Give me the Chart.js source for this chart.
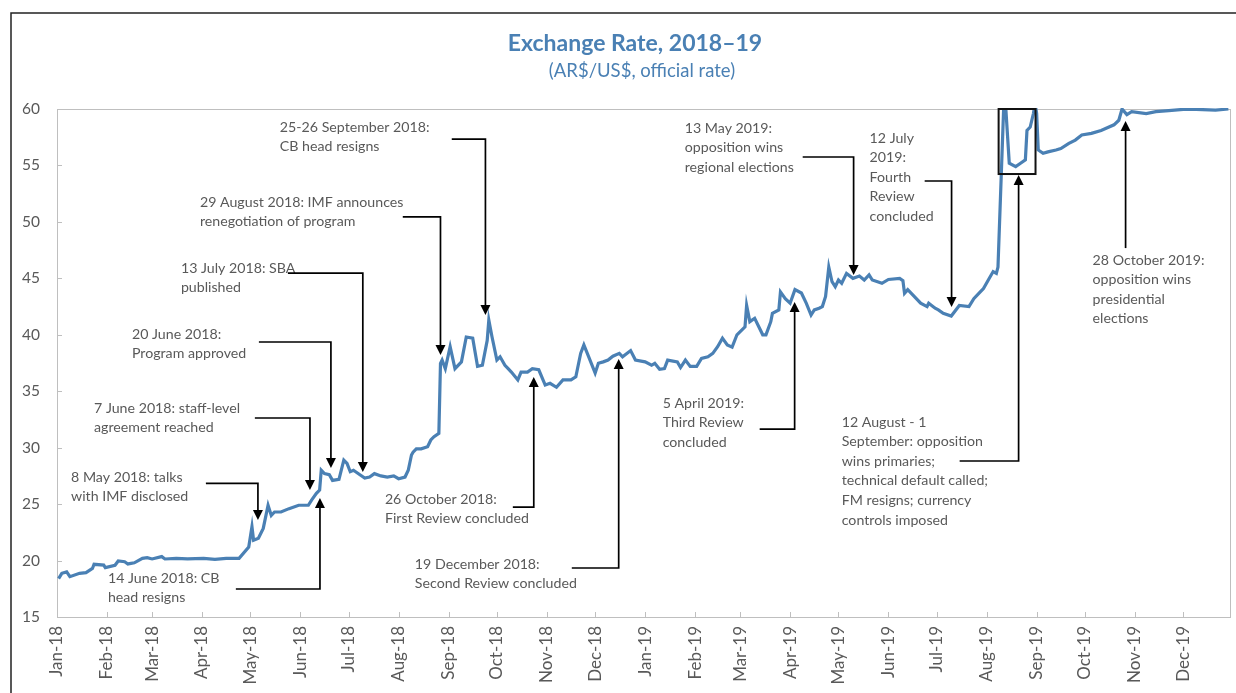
<!DOCTYPE html>
<html>
<head>
<meta charset="utf-8">
<script src="https://cdn.jsdelivr.net/npm/chart.js@4.4.1/dist/chart.umd.min.js"></script>
<style>
html, body { margin: 0; padding: 0; background: #fff; }
#wrap { width: 1236px; height: 693px; position: relative; }
</style>
</head>
<body>
<div id="wrap"><canvas id="fxChart" width="1236" height="693"></canvas></div>
<script>
const monthLabels = ['Jan-18', 'Feb-18', 'Mar-18', 'Apr-18', 'May-18', 'Jun-18', 'Jul-18', 'Aug-18', 'Sep-18', 'Oct-18', 'Nov-18', 'Dec-18',
    'Jan-19', 'Feb-19', 'Mar-19', 'Apr-19', 'May-19', 'Jun-19', 'Jul-19', 'Aug-19', 'Sep-19', 'Oct-19', 'Nov-19', 'Dec-19'];
const yTicks = [15, 20, 25, 30, 35, 40, 45, 50, 55, 60];

const dates = [
    '2018-01-02', '2018-01-04', '2018-01-07', '2018-01-09', '2018-01-15', '2018-01-19', '2018-01-23', '2018-01-24', '2018-01-30', '2018-01-31',
    '2018-02-06', '2018-02-08', '2018-02-12', '2018-02-14', '2018-02-18', '2018-02-23', '2018-02-26', '2018-03-01', '2018-03-07', '2018-03-09',
    '2018-03-16', '2018-03-23', '2018-04-02', '2018-04-09', '2018-04-16', '2018-04-24', '2018-04-30', '2018-05-02', '2018-05-03', '2018-05-06',
    '2018-05-09', '2018-05-12', '2018-05-14', '2018-05-16', '2018-05-20', '2018-05-25', '2018-05-31', '2018-06-06', '2018-06-08', '2018-06-11',
    '2018-06-13', '2018-06-14', '2018-06-16', '2018-06-19', '2018-06-21', '2018-06-25', '2018-06-28', '2018-06-30', '2018-07-02', '2018-07-04',
    '2018-07-08', '2018-07-11', '2018-07-14', '2018-07-17', '2018-07-21', '2018-07-25', '2018-07-29', '2018-08-01', '2018-08-05', '2018-08-07',
    '2018-08-09', '2018-08-10', '2018-08-12', '2018-08-15', '2018-08-19', '2018-08-21', '2018-08-23', '2018-08-26', '2018-08-27', '2018-08-28',
    '2018-08-30', '2018-09-02', '2018-09-05', '2018-09-09', '2018-09-12', '2018-09-16', '2018-09-19', '2018-09-22', '2018-09-25', '2018-09-26',
    '2018-09-28', '2018-10-01', '2018-10-03', '2018-10-06', '2018-10-08', '2018-10-10', '2018-10-14', '2018-10-16', '2018-10-20', '2018-10-23',
    '2018-10-27', '2018-10-31', '2018-11-03', '2018-11-07', '2018-11-11', '2018-11-16', '2018-11-19', '2018-11-22', '2018-11-24', '2018-11-27',
    '2018-12-01', '2018-12-03', '2018-12-06', '2018-12-09', '2018-12-12', '2018-12-16', '2018-12-18', '2018-12-23', '2018-12-26', '2019-01-01',
    '2019-01-05', '2019-01-07', '2019-01-10', '2019-01-13', '2019-01-15', '2019-01-21', '2019-01-23', '2019-01-26', '2019-01-29', '2019-02-02',
    '2019-02-05', '2019-02-09', '2019-02-12', '2019-02-15', '2019-02-18', '2019-02-21', '2019-02-24', '2019-02-27', '2019-03-04', '2019-03-05',
    '2019-03-07', '2019-03-10', '2019-03-15', '2019-03-17', '2019-03-20', '2019-03-21', '2019-03-25', '2019-03-26', '2019-03-29', '2019-04-01',
    '2019-04-04', '2019-04-08', '2019-04-11', '2019-04-14', '2019-04-16', '2019-04-19', '2019-04-21', '2019-04-23', '2019-04-25', '2019-04-27',
    '2019-04-29', '2019-05-01', '2019-05-03', '2019-05-06', '2019-05-10', '2019-05-14', '2019-05-17', '2019-05-20', '2019-05-22', '2019-05-28',
    '2019-06-01', '2019-06-08', '2019-06-10', '2019-06-11', '2019-06-13', '2019-06-17', '2019-06-21', '2019-06-25', '2019-06-26', '2019-06-30',
    '2019-07-02', '2019-07-05', '2019-07-10', '2019-07-15', '2019-07-21', '2019-07-24', '2019-07-28', '2019-07-30', '2019-08-02', '2019-08-05',
    '2019-08-07', '2019-08-08', '2019-08-12', '2019-08-15', '2019-08-19', '2019-08-22', '2019-08-25', '2019-08-26', '2019-08-28', '2019-08-30',
    '2019-08-31', '2019-09-01', '2019-09-02', '2019-09-05', '2019-09-08', '2019-09-13', '2019-09-16', '2019-09-21', '2019-09-25', '2019-09-29',
    '2019-10-05', '2019-10-11', '2019-10-19', '2019-10-22', '2019-10-24', '2019-10-27', '2019-10-30', '2019-11-08', '2019-11-14', '2019-11-22',
    '2019-12-01', '2019-12-09', '2019-12-21', '2019-12-29'
];
const rates = [
    18.4, 18.87, 19.0, 18.57, 18.87, 18.93, 19.3, 19.67, 19.6, 19.37,
    19.58, 19.96, 19.9, 19.7, 19.8, 20.2, 20.25, 20.14, 20.35, 20.14,
    20.2, 20.15, 20.2, 20.1, 20.2, 20.2, 21.2, 23.0, 21.8, 21.97,
    22.85, 24.9, 24.0, 24.3, 24.3, 24.6, 24.9, 24.9, 25.36, 25.96,
    26.25, 28.0, 27.7, 27.6, 27.1, 27.2, 28.9, 28.6, 27.87, 28.0,
    27.6, 27.3, 27.4, 27.7, 27.5, 27.4, 27.5, 27.25, 27.4, 28.0,
    29.35, 29.6, 29.9, 29.9, 30.09, 30.68, 30.97, 31.27, 37.47, 37.76,
    37.0, 38.94, 37.0, 37.6, 39.8, 39.7, 37.2, 37.3, 39.5, 41.3,
    39.8, 37.76, 38.05, 37.3, 37.0, 36.7, 36.0, 36.7, 36.7, 37.0,
    36.9, 35.55, 35.7, 35.35, 36.0, 36.0, 36.28, 38.35, 39.1, 38.05,
    36.6, 37.47, 37.6, 37.76, 38.1, 38.35, 38.05, 38.6, 37.76, 37.6,
    37.3, 37.47, 36.94, 37.0, 37.76, 37.6, 37.1, 37.76, 37.2, 37.2,
    37.9, 38.05, 38.35, 38.94, 39.7, 39.1, 38.9, 40.0, 40.7, 42.6,
    41.16, 41.46, 40.0, 40.0, 41.16, 41.9, 42.2, 43.8, 43.2, 42.8,
    44.0, 43.7, 42.8, 41.75, 42.2, 42.35, 42.5, 43.4, 46.0, 44.7,
    44.26, 44.85, 44.56, 45.44, 45.0, 45.2, 44.85, 45.3, 44.85, 44.56,
    44.9, 45.0, 44.8, 43.67, 44.0, 43.4, 42.8, 42.5, 42.8, 42.35,
    42.2, 41.9, 41.66, 42.6, 42.5, 43.2, 43.8, 44.1, 44.85, 45.6,
    45.44, 46.0, 62.0, 55.2, 54.9, 55.2, 55.5, 58.1, 58.4, 59.6,
    60.5, 59.6, 56.37, 56.07, 56.2, 56.37, 56.5, 56.95, 57.25, 57.7,
    57.84, 58.1, 58.6, 59.0, 60.0, 59.5, 59.76, 59.6, 59.76, 59.85,
    59.97, 59.97, 59.9, 60.0
];

// annotation positions: x in days since 1 Jan 2018, y in AR$/US$
const notes = [
    { text: ['8 May 2018: talks', 'with IMF disclosed'], tx: 8.7, ty: 27.4, path: [[92.4, 26.84], [124.7, 26.84], [124.7, 23.6]] },
    { text: ['14 June 2018: CB', 'head resigns'], tx: 31.6, ty: 18.45, path: [[111.0, 17.48], [163.2, 17.48], [163.2, 25.54]] },
    { text: ['7 June 2018: staff-level', 'agreement reached'], tx: 23.0, ty: 33.51, path: [[122.8, 32.63], [157.0, 32.63], [157.0, 26.25]] },
    { text: ['20 June 2018:', 'Program approved'], tx: 46.5, ty: 40.07, path: [[125.3, 39.36], [170.0, 39.36], [170.0, 28.2]] },
    { text: ['13 July 2018: SBA', 'published'], tx: 76.9, ty: 45.91, path: [[143.3, 45.47], [189.8, 45.47], [189.8, 27.84]] },
    { text: ['29 August 2018: IMF announces', 'renegotiation of program'], tx: 88.7, ty: 51.76, path: [[214.6, 50.44], [238.0, 50.44], [238.0, 38.2]] },
    { text: ['25-26 September 2018:', 'CB head resigns'], tx: 138.3, ty: 58.4, path: [[245.0, 57.34], [265.9, 57.34], [265.9, 41.75]] },
    { text: ['26 October 2018:', 'First Review concluded'], tx: 203.5, ty: 25.45, path: [[282.9, 24.74], [295.9, 24.74], [295.9, 36.26]] },
    { text: ['19 December 2018:', 'Second Review concluded'], tx: 222.1, ty: 19.69, path: [[319.5, 19.34], [348.6, 19.34], [348.6, 37.85]] },
    { text: ['5 April 2019:', 'Third Review', 'concluded'], tx: 375.9, ty: 33.95, path: [[436.1, 31.65], [457.8, 31.65], [457.8, 42.9]] },
    { text: ['13 May 2019:', 'opposition wins', 'regional elections'], tx: 389.6, ty: 58.31, path: [[462.8, 55.75], [494.4, 55.75], [494.4, 45.29]] },
    { text: ['12 July', '2019:', 'Fourth', 'Review', 'concluded'], tx: 504.3, ty: 57.43, path: [[538.5, 53.62], [555.2, 53.62], [555.2, 42.46]] },
    { text: ['12 August - 1', 'September: opposition', 'wins primaries;', 'technical default called;', 'FM resigns; currency', 'controls imposed'],
        tx: 487.0, ty: 32.27, path: [[560.2, 28.82], [596.8, 28.82], [596.8, 54.15]] },
    { text: ['28 October 2019:', 'opposition wins', 'presidential', 'elections'], tx: 642.7, ty: 46.62, path: [[663.2, 47.68], [663.2, 58.93]] },
];
const crisisBox = { x0: 584.4, x1: 607.3, y0: 54.24, y1: 60 };

const MONTHS = ['Jan', 'Feb', 'Mar', 'Apr', 'May', 'Jun', 'Jul', 'Aug', 'Sep', 'Oct', 'Nov', 'Dec'];
const ORIGIN = Date.UTC(2018, 0, 1);
function dayOf(s) {
    const p = s.split('-');
    return (Date.UTC(+p[0], +p[1] - 1, +p[2]) - ORIGIN) / 86400000;
}
const monthDays = monthLabels.map(l => {
    const [m, y] = l.split('-');
    return (Date.UTC(2000 + +y, MONTHS.indexOf(m), 1) - ORIGIN) / 86400000;
});

const BLUE = '#4a80b4';
const GREY = '#595959';
const FONT = 'Lato, "Open Sans", sans-serif';

const decor = {
    id: 'decor',
    beforeDatasetsDraw(chart) {
        const { ctx, chartArea: a, scales } = chart;
        ctx.save();
        ctx.strokeStyle = '#bfbfbf';
        ctx.lineWidth = 1;
        ctx.strokeRect(a.left + 0.5, a.top + 0.5, a.right - a.left, a.bottom - a.top);
        ctx.beginPath();
        monthDays.forEach(d => {
            const x = Math.round(scales.x.getPixelForValue(d)) + 0.5;
            ctx.moveTo(x, a.bottom);
            ctx.lineTo(x, a.bottom - 5);
        });
        yTicks.forEach(v => {
            const y = Math.round(scales.y.getPixelForValue(v)) + 0.5;
            ctx.moveTo(a.left, y);
            ctx.lineTo(a.left + 5, y);
        });
        ctx.stroke();
        ctx.restore();
    },
    afterDatasetsDraw(chart) {
        const { ctx, scales } = chart;
        const px = d => scales.x.getPixelForValue(d);
        const py = v => scales.y.getPixelForValue(v);
        ctx.save();
        ctx.font = '14.2px ' + FONT;
        ctx.textBaseline = 'middle';
        ctx.textAlign = 'left';
        notes.forEach(n => {
            ctx.fillStyle = GREY;
            n.text.forEach((t, i) => ctx.fillText(t, px(n.tx), py(n.ty) + i * 19.6));
            const pts = n.path.map(p => [px(p[0]), py(p[1])]);
            const tip = pts[pts.length - 1];
            const prev = pts[pts.length - 2];
            const dir = tip[1] > prev[1] ? 1 : -1;
            ctx.strokeStyle = '#000';
            ctx.lineWidth = 1.7;
            ctx.beginPath();
            ctx.moveTo(pts[0][0], pts[0][1]);
            for (let i = 1; i < pts.length - 1; i++) ctx.lineTo(pts[i][0], pts[i][1]);
            ctx.lineTo(tip[0], tip[1] - dir * 9);
            ctx.stroke();
            ctx.fillStyle = '#000';
            ctx.beginPath();
            ctx.moveTo(tip[0], tip[1]);
            ctx.lineTo(tip[0] - 5, tip[1] - dir * 10);
            ctx.lineTo(tip[0] + 5, tip[1] - dir * 10);
            ctx.closePath();
            ctx.fill();
        });
        ctx.strokeStyle = '#111';
        ctx.lineWidth = 2;
        const bx = px(crisisBox.x0), by = py(crisisBox.y1);
        ctx.strokeRect(bx, by, px(crisisBox.x1) - bx, py(crisisBox.y0) - by);
        ctx.restore();
    },
    afterDraw(chart) {
        const ctx = chart.ctx;
        ctx.save();
        ctx.strokeStyle = '#222';
        ctx.lineWidth = 1.5;
        ctx.beginPath();
        ctx.moveTo(11, 700);
        ctx.lineTo(11, 13);
        ctx.lineTo(1240, 13);
        ctx.stroke();
        ctx.textAlign = 'center';
        ctx.textBaseline = 'middle';
        ctx.fillStyle = BLUE;
        ctx.font = 'bold 23px ' + FONT;
        ctx.fillText('Exchange Rate, 2018\u201319', 635, 44);
        ctx.font = '18.5px ' + FONT;
        ctx.fillText('(AR$/US$, official rate)', 642, 71);
        ctx.restore();
    }
};

new Chart(document.getElementById('fxChart'), {
    type: 'line',
    data: {
        datasets: [{
            label: 'Exchange rate',
            data: dates.map((d, i) => ({ x: dayOf(d), y: rates[i] })),
            borderColor: BLUE,
            borderWidth: 3.2,
            pointRadius: 0,
            tension: 0,
            fill: false,
            clip: 1,
        }],
    },
    options: {
        responsive: false,
        animation: false,
        layout: { padding: { top: 109, right: 6, bottom: 0, left: 0 } },
        plugins: {
            legend: { display: false },
            tooltip: { enabled: false },
        },
        scales: {
            x: {
                type: 'linear',
                min: 0,
                max: 728,
                grid: { display: false, drawTicks: false },
                border: { display: false },
                afterBuildTicks: s => { s.ticks = monthDays.map(v => ({ value: v })); },
                afterFit: s => { s.height = 76; },
                ticks: {
                    autoSkip: false,
                    minRotation: 90,
                    maxRotation: 90,
                    padding: 9,
                    color: GREY,
                    font: { family: FONT, size: 17 },
                    callback: (v, i) => monthLabels[i],
                },
            },
            y: {
                min: 15,
                max: 60,
                grid: { display: false, drawTicks: false },
                border: { display: false },
                afterBuildTicks: s => { s.ticks = yTicks.map(v => ({ value: v })); },
                afterFit: s => { s.width = 57; },
                ticks: {
                    padding: 17,
                    color: GREY,
                    font: { family: FONT, size: 15.5 },
                },
            },
        },
    },
    plugins: [decor],
});
</script>
</body>
</html>
